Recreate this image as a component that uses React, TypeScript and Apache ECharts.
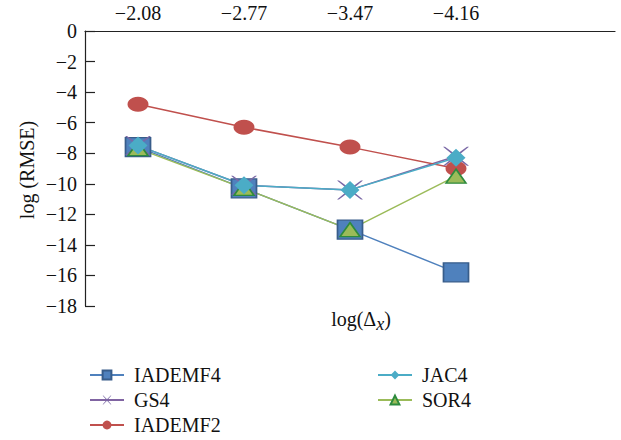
import React, { useEffect, useRef } from "react";
import * as echarts from "echarts";

const categories = ["−2.08", "−2.77", "−3.47", "−4.16", ""];
const yTicks = [0, -2, -4, -6, -8, -10, -12, -14, -16, -18];
const iademf4 = [-7.6, -10.3, -13.0, -15.8];
const gs4 = [-7.5, -10.1, -10.4, -8.2];
const iademf2 = [-4.8, -6.3, -7.6, -9.0];
const jac4 = [-7.5, -10.1, -10.4, -8.3];
const sor4 = [-7.7, -10.3, -13.0, -9.5];

const FONT = "Liberation Serif";
const X_PATH =
  "path://M0,0 L2,0 L13,7.6 L24,0 L26,0 L14.4,9 L26,18 L24,18 L13,10.4 L2,18 L0,18 L11.6,9 Z";

export default function App() {
  const ref = useRef<HTMLDivElement>(null);
  useEffect(() => {
    if (!ref.current) return;
    const chart = echarts.init(ref.current, undefined, { renderer: "svg" });
    const lineW = 1.5;
    const legendText = { fontSize: 20, lineHeight: 20, fontFamily: FONT, color: "#111", padding: [0, 0, 0, 5] };
    chart.setOption({
      animation: false,
      backgroundColor: "#ffffff",
      textStyle: { fontFamily: FONT },
      grid: { left: 85, top: 31, right: 6, bottom: 134, containLabel: false },
      xAxis: {
        type: "category",
        position: "top",
        data: categories,
        boundaryGap: true,
        axisLine: { lineStyle: { color: "#222", width: 1.2 } },
        axisTick: { inside: true, length: 7, alignWithLabel: true, lineStyle: { color: "#222", width: 1.2 } },
        axisLabel: { color: "#111", fontSize: 20, fontFamily: FONT, margin: 8 },
        splitLine: { show: false },
      },
      yAxis: {
        type: "value",
        min: -18,
        max: 0,
        interval: 2,
        axisLine: { show: true, lineStyle: { color: "#222", width: 1.2 } },
        axisTick: { show: true, inside: true, length: 10, lineStyle: { color: "#222", width: 1.2 } },
        axisLabel: {
          color: "#111",
          fontSize: 20,
          fontFamily: FONT,
          margin: 8,
          formatter: (v: number) => (yTicks.includes(v) ? (v < 0 ? "−" + Math.abs(v) : String(v)) : ""),
        },
        splitLine: { show: false },
      },
      legend: [
        {
          orient: "vertical",
          left: 89,
          top: 365,
          height: 90,
          padding: 0,
          itemWidth: 34,
          itemHeight: 11,
          itemGap: 5,
          data: ["IADEMF4", "GS4", "IADEMF2"],
          textStyle: legendText,
        },
        {
          orient: "vertical",
          left: 377,
          top: 365,
          height: 90,
          padding: 0,
          itemWidth: 34,
          itemHeight: 11,
          itemGap: 5,
          data: ["JAC4", "SOR4"],
          textStyle: legendText,
        },
      ],
      graphic: [
        {
          type: "text",
          x: 27,
          y: 170,
          rotation: Math.PI / 2,
          style: {
            text: "log (RMSE)",
            fontSize: 20,
            fontFamily: FONT,
            fill: "#111",
            align: "center",
            verticalAlign: "middle",
          },
        },
        {
          type: "text",
          x: 361,
          y: 319,
          style: {
            text: "log(Δ{sub|x})",
            fontSize: 20,
            fontFamily: FONT,
            fill: "#111",
            align: "center",
            verticalAlign: "middle",
            rich: {
              sub: { fontSize: 18, fontStyle: "italic", fontFamily: FONT, fill: "#111", verticalAlign: "bottom", padding: [9, 0, 0, 0] },
            },
          },
        },
      ],
      series: [
        {
          name: "IADEMF4",
          type: "line",
          data: iademf4,
          symbol: "rect",
          symbolSize: [25, 19],
          lineStyle: { color: "#4F81BD", width: lineW },
          itemStyle: { color: "#4F81BD", borderColor: "#385D8A", borderWidth: 1.5 },
        },
        {
          name: "GS4",
          type: "line",
          data: gs4,
          symbol: X_PATH,
          symbolSize: [26, 19],
          lineStyle: { color: "#8064A2", width: lineW },
          itemStyle: { color: "#7A68A6", borderWidth: 0 },
        },
        {
          name: "IADEMF2",
          type: "line",
          data: iademf2,
          symbol: "circle",
          symbolSize: [21, 15],
          lineStyle: { color: "#C0504D", width: lineW },
          itemStyle: { color: "#C0504D", borderWidth: 0 },
        },
        {
          name: "SOR4",
          type: "line",
          data: sor4,
          symbol: "triangle",
          symbolSize: [20, 14],
          lineStyle: { color: "#9BBB59", width: lineW },
          itemStyle: { color: "#9BBB59", borderColor: "#2E8B3E", borderWidth: 1.5 },
        },
        {
          name: "JAC4",
          type: "line",
          data: jac4,
          symbol: "diamond",
          symbolSize: [19, 18],
          lineStyle: { color: "#4BACC6", width: lineW },
          itemStyle: { color: "#4BACC6", borderWidth: 0 },
        },
      ],
    });
    return () => chart.dispose();
  }, []);
  return <div ref={ref} style={{ position: "fixed", left: 0, top: 0, width: 621, height: 440 }} />;
}
